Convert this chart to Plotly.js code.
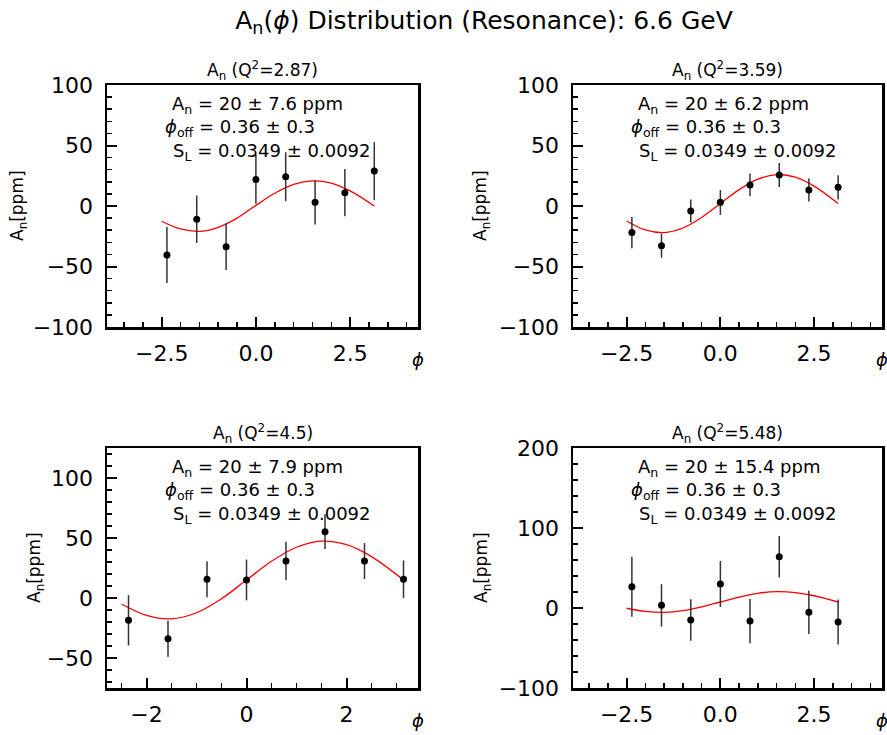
<!DOCTYPE html>
<html>
<head>
<meta charset="utf-8">
<script src="https://cdn.plot.ly/plotly-3.0.1.min.js"></script>
<style>html,body{margin:0;padding:0;background:#fff;}</style>
</head>
<body>
<div id="chart" style="width:887px;height:735px;"></div>
<script>
// ---- data ----
const phi = [-2.36, -1.57, -0.79, 0.0, 0.79, 1.57, 2.36, 3.14];

const an1  = [-40.5, -11, -33.6, 22, 24.2, 3, 11, 28.9];
const err1 = [23.2, 19.6, 19.3, 20.2, 20.2, 18.3, 19.5, 24];
const an2  = [-22, -32.8, -4.1, 3, 17.4, 25.6, 13.2, 15.4];
const err2 = [13, 10, 9.5, 10.3, 9.4, 10, 9.5, 10];
const an3  = [-18.6, -33.9, 15.6, 15, 30.8, 55.3, 30.8, 15.6];
const err3 = [21, 15, 15, 17, 16, 14.5, 15, 15.7];
const an4  = [26.7, 3.3, -15, 30, -16.3, 64, -5.4, -17.5];
const err4 = [37.5, 26.5, 26, 28.7, 27.7, 26, 27, 28];

const fitPhi = [-2.5, -2.0, -1.5, -1.0, -0.5, 0, 0.5, 1.0, 1.5, 2.0, 2.5, 3.14];
const fit1 = [-12.6, -19, -21, -17.6, -10, 0.5, 10.5, 17.8, 20.8, 19, 12.5, 0];
const fit2 = [-12.4, -19.8, -22, -18.2, -9.5, 2, 13.5, 22.2, 26, 23.8, 16.4, 2];
const fit3 = [-5, -14.5, -17.4, -12.3, -0.6, 15, 30.6, 42.3, 47.4, 44.5, 34.5, 15];
const fit4 = [-0.3, -4.3, -5.5, -3.4, 1.3, 7.5, 13.7, 18.4, 20.5, 19.3, 15.3, 7.5];

const q2Labels = ["2.87", "3.59", "4.5", "5.48"];
const anErrLabels = ["7.6", "6.2", "7.9", "15.4"];

// ---- layout ----
const W = 887, H = 735;
const px = v => v / W;
const py = v => 1 - v / H;
const FONT = "DejaVu Sans";

const panels = [
  {an: an1, err: err1, fit: fit1, xr: [-3.95, 4.3], yr: [-100, 100], ydt: 50, ymin: 10, xdt: 2.5, xfmt: ".1f",
   box: [107, 418, 85, 327]},
  {an: an2, err: err2, fit: fit2, xr: [-3.93, 4.31], yr: [-100, 100], ydt: 50, ymin: 10, xdt: 2.5, xfmt: ".1f",
   box: [573, 882, 85, 327]},
  {an: an3, err: err3, fit: fit3, xr: [-2.79, 3.43], yr: [-75, 125], ydt: 50, ymin: 10, xdt: 2, xfmt: "",
   box: [107, 418, 448, 688]},
  {an: an4, err: err4, fit: fit4, xr: [-3.93, 4.31], yr: [-100, 200], ydt: 100, ymin: 20, xdt: 2.5, xfmt: ".1f",
   box: [573, 882, 448, 688]}
];

const traces = [];
const layout = {
  width: W, height: H,
  margin: {l: 0, r: 0, t: 0, b: 0},
  paper_bgcolor: "#fff", plot_bgcolor: "#fff",
  showlegend: false,
  font: {family: FONT, color: "#000"},
  annotations: [],
  title: {
    text: "A<sub>n</sub>(<i>ϕ</i>) Distribution (Resonance): 6.6 GeV",
    font: {family: FONT, size: 25, color: "#000"},
    x: px(484), xanchor: "center", y: py(20), yanchor: "middle", xref: "paper", yref: "paper"
  }
};

panels.forEach((p, i) => {
  const k = i === 0 ? "" : String(i + 1);
  const xa = "x" + k, ya = "y" + k;
  traces.push({
    x: fitPhi, y: p.fit, xaxis: xa, yaxis: ya, type: "scatter", mode: "lines",
    line: {color: "#ff0000", width: 1.3, shape: "spline"}, hoverinfo: "skip"
  });
  traces.push({
    x: phi, y: p.an, xaxis: xa, yaxis: ya, type: "scatter", mode: "markers",
    marker: {color: "#000", size: 7},
    error_y: {type: "data", array: p.err, visible: true, color: "#333", thickness: 1.5, width: 0}
  });
  const [L, R, T, B] = p.box;
  const common = {
    showline: true, mirror: true, linecolor: "#000", linewidth: 2.5,
    showgrid: false, zeroline: false,
    ticks: "inside", ticklen: 10, tickwidth: 2, tickcolor: "#000",
    tickfont: {family: FONT, size: 22, color: "#000"}
  };
  layout["xaxis" + k] = Object.assign({}, common, {
    domain: [px(L), px(R)], anchor: ya, range: p.xr,
    tick0: 0, dtick: p.xdt, tickformat: p.xfmt, ticklabelstandoff: 5,
    minor: {ticks: "inside", ticklen: 5, tickwidth: 1.5, tickcolor: "#000", dtick: 0.5, tick0: 0}
  });
  layout["yaxis" + k] = Object.assign({}, common, {
    domain: [py(B), py(T)], anchor: xa, range: p.yr,
    tick0: 0, dtick: p.ydt, ticklabelstandoff: 7,
    minor: {ticks: "inside", ticklen: 5, tickwidth: 1.5, tickcolor: "#000", dtick: p.ymin, tick0: 0}
  });

  const cx = (L + R) / 2;
  // subplot title
  layout.annotations.push({
    text: "A<sub>n</sub> (Q<sup>2</sup>=" + q2Labels[i] + ")",
    xref: "paper", yref: "paper", x: px(cx), y: py(T - 15), xanchor: "center", yanchor: "middle",
    showarrow: false, font: {family: FONT, size: 17, color: "#000"}
  });
  // fit result lines
  const lx = L + 56;
  const lines = [
    {t: "A<sub>n</sub> = 20 ± " + anErrLabels[i] + " ppm", x: lx + 7, y: T + 20},
    {t: "<i>ϕ</i><sub>off</sub> = 0.36 ± 0.3", x: lx, y: T + 43},
    {t: "S<sub>L</sub> = 0.0349 ± 0.0092", x: lx + 8, y: T + 67}
  ];
  lines.forEach(l => layout.annotations.push({
    text: l.t, xref: "paper", yref: "paper", x: px(l.x), y: py(l.y),
    xanchor: "left", yanchor: "middle", showarrow: false,
    font: {family: FONT, size: 18, color: "#000"}
  }));
  // y label
  const ylx = (i === 0) ? 19 : (i === 2 ? 35 : 482);
  layout.annotations.push({
    text: "A<sub>n</sub>[ppm]", xref: "paper", yref: "paper", x: px(ylx), y: py((T + B) / 2),
    xanchor: "center", yanchor: "middle", textangle: -90, showarrow: false,
    font: {family: FONT, size: 17, color: "#000"}
  });
  // x label
  layout.annotations.push({
    text: "<i>ϕ</i>", xref: "paper", yref: "paper", x: px(R), y: py(B + 32),
    xanchor: "center", yanchor: "middle", showarrow: false,
    font: {family: FONT, size: 18, color: "#000"}
  });
});

Plotly.newPlot("chart", traces, layout, {displayModeBar: false, staticPlot: true});
</script>
</body>
</html>
